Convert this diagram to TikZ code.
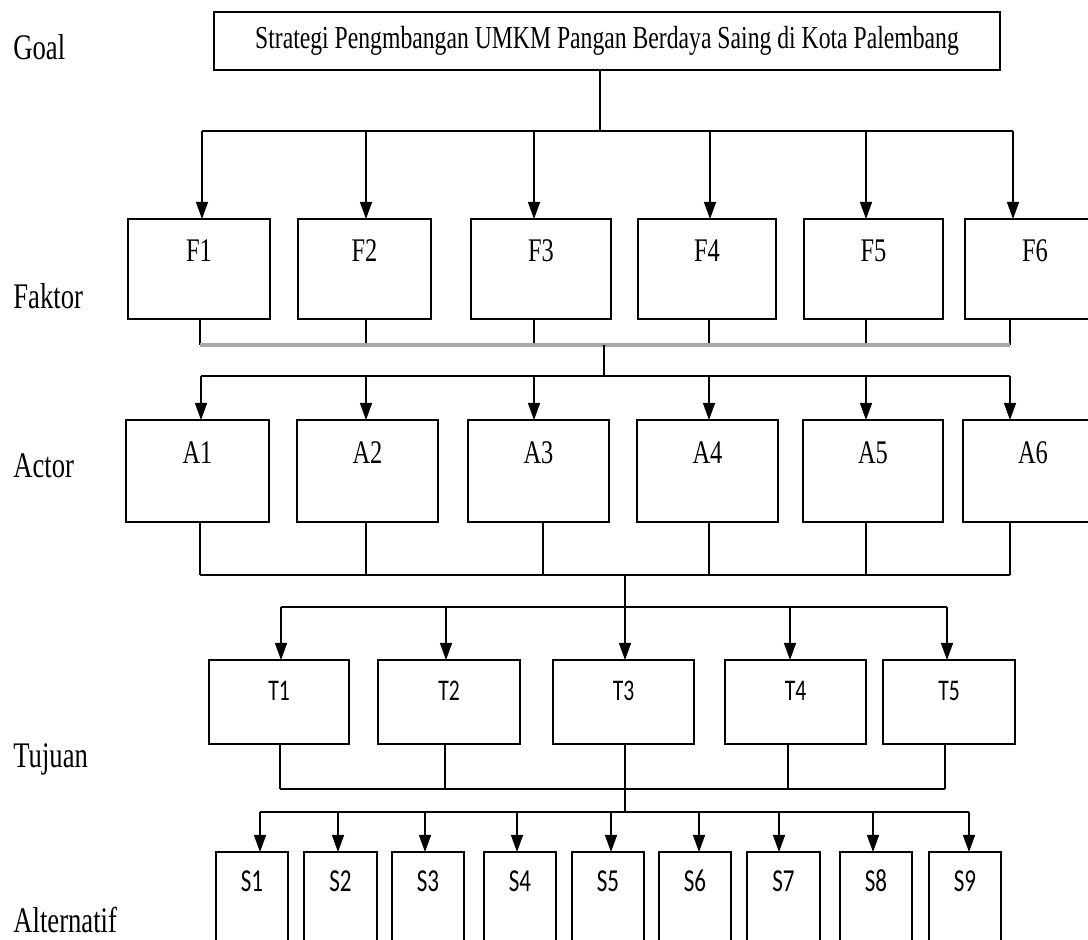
\documentclass[tikz,border=0pt]{standalone}
\usepackage{fontspec}
\setmainfont[FakeStretch=0.74]{Liberation Serif}
\newfontfamily\narrowsans[FakeStretch=0.72]{Carlito}
\usetikzlibrary{positioning}
\usetikzlibrary{arrows.meta}

\begin{document}
\begin{tikzpicture}[x=0.5pt, y=-0.5pt,
    main/.style = {draw, line width=1pt, inner sep=0pt, outer sep=0pt},
    side/.style = {inner sep=0pt, anchor=base west, font=\fontsize{18}{20}\selectfont},
    fbox/.style = {main, minimum height=50pt, label={[anchor=center, yshift=-16pt, font=\fontsize{16.5}{18}\selectfont]north:#1}},
    abox/.style = {main, minimum height=51pt, label={[anchor=center, yshift=-16.5pt, font=\fontsize{16.5}{18}\selectfont]north:#1}},
    tbox/.style = {main, minimum height=42pt, label={[anchor=center, yshift=-15.5pt, font=\narrowsans\fontsize{15}{17}\selectfont]north:#1}},
    sbox/.style = {main, minimum height=54pt, label={[anchor=center, yshift=-14.5pt, font=\narrowsans\fontsize{16}{18}\selectfont]north:#1}},
    link/.style = {line width=0.75pt},
    bar/.style = {line width=1.3pt},
    graybar/.style = {line width=2pt, gray!70},
    arr/.style = {link, -{Triangle[length=8.5pt, width=6pt]}}]
    \useasboundingbox (0,0) rectangle (1088,940);
    \clip (0,0) rectangle (1088,940);

    \node[side] (lgoal) at (13,60) {Goal};
    \node[side] (lfaktor) at (13,309) {Faktor};
    \node[side] (lactor) at (13,478) {Actor};
    \node[side] (ltujuan) at (13,768) {Tujuan};
    \node[side] (lalt) at (13,933) {Alternatif};

    \node[main, minimum width=393pt, minimum height=29pt, font=\fontsize{16}{18}\selectfont] (goal) at (607,41) {Strategi Pengmbangan UMKM Pangan Berdaya Saing di Kota Palembang};

    \node[fbox=F1, minimum width=71pt] (F1) at (199,269) {};
    \node[fbox=F2, minimum width=66.5pt] (F2) [right=14pt of F1] {};
    \node[fbox=F3, minimum width=70pt] (F3) [right=20pt of F2] {};
    \node[fbox=F4, minimum width=69pt] (F4) [right=13.5pt of F3] {};
    \node[fbox=F5, minimum width=69.5pt] (F5) [right=14pt of F4] {};
    \node[fbox=F6, minimum width=70pt] (F6) [right=11pt of F5] {};

    \node[abox=A1, minimum width=71.5pt] (A1) at (197.5,471) {};
    \node[abox=A2, minimum width=70.5pt] (A2) [right=14pt of A1] {};
    \node[abox=A3, minimum width=70.5pt] (A3) [right=15pt of A2] {};
    \node[abox=A4, minimum width=70.5pt] (A4) [right=14pt of A3] {};
    \node[abox=A5, minimum width=70pt] (A5) [right=12.5pt of A4] {};
    \node[abox=A6, minimum width=70pt] (A6) [right=10pt of A5] {};

    \node[tbox=T1, minimum width=70pt] (T1) at (279,702) {};
    \node[tbox=T2, minimum width=71pt] (T2) [right=14.5pt of T1] {};
    \node[tbox=T3, minimum width=70.5pt] (T3) [right=16.5pt of T2] {};
    \node[tbox=T4, minimum width=70.5pt] (T4) [right=15.5pt of T3] {};
    \node[tbox=T5, minimum width=66pt] (T5) [right=8.5pt of T4] {};

    \node[sbox=S1, minimum width=36pt] (S1) at (252,906) {};
    \node[sbox=S2, minimum width=36.5pt] (S2) [right=8pt of S1] {};
    \node[sbox=S3, minimum width=36pt] (S3) [right=7.5pt of S2] {};
    \node[sbox=S4, minimum width=36pt] (S4) [right=10pt of S3] {};
    \node[sbox=S5, minimum width=36pt] (S5) [right=8pt of S4] {};
    \node[sbox=S6, minimum width=36pt] (S6) [right=7.5pt of S5] {};
    \node[sbox=S7, minimum width=36.5pt] (S7) [right=8pt of S6] {};
    \node[sbox=S8, minimum width=36pt] (S8) [right=10pt of S7] {};
    \node[sbox=S9, minimum width=36pt] (S9) [right=8.5pt of S8] {};

    \coordinate (g0) at (600,131);
    \coordinate (f1) at (202,131);
    \coordinate (f2) at (366,131);
    \coordinate (f3) at (534,131);
    \coordinate (f4) at (710,131);
    \coordinate (f5) at (866,131);
    \coordinate (f6) at (1013,131);

    \coordinate (p1) at (200,345);
    \coordinate (p2) at (366,345);
    \coordinate (p3) at (534,345);
    \coordinate (p4) at (709,345);
    \coordinate (p5) at (866,345);
    \coordinate (p6) at (1010,345);
    \coordinate (pm) at (604,345);

    \coordinate (a1) at (201,376);
    \coordinate (a2) at (366,376);
    \coordinate (a3) at (534,376);
    \coordinate (a4) at (709,376);
    \coordinate (a5) at (866,376);
    \coordinate (a6) at (1010,376);
    \coordinate (am) at (604,376);

    \coordinate (q1) at (200,575);
    \coordinate (q2) at (366,575);
    \coordinate (q3) at (543,575);
    \coordinate (q4) at (709,575);
    \coordinate (q5) at (866,575);
    \coordinate (q6) at (1010,575);
    \coordinate (qm) at (625,575);

    \coordinate (t1) at (281,607);
    \coordinate (t2) at (446,607);
    \coordinate (t3) at (625,607);
    \coordinate (t4) at (790,607);
    \coordinate (t5) at (947,607);

    \coordinate (r1) at (280,789);
    \coordinate (r2) at (445,789);
    \coordinate (r3) at (625,789);
    \coordinate (r4) at (788,789);
    \coordinate (r5) at (945,789);

    \coordinate (s1) at (260,812);
    \coordinate (s2) at (338,812);
    \coordinate (s3) at (425,812);
    \coordinate (s4) at (517,812);
    \coordinate (s5) at (611,812);
    \coordinate (s6) at (699,812);
    \coordinate (s7) at (779,812);
    \coordinate (s8) at (873,812);
    \coordinate (s9) at (969,812);
    \coordinate (sm) at (625,812);

    \draw[link] (goal.south -| g0) -- (g0);
    \draw[bar] (f1) -- (f6);
    \draw[arr] (f1) -- (f1 |- F1.north);
    \draw[arr] (f2) -- (f2 |- F2.north);
    \draw[arr] (f3) -- (f3 |- F3.north);
    \draw[arr] (f4) -- (f4 |- F4.north);
    \draw[arr] (f5) -- (f5 |- F5.north);
    \draw[arr] (f6) -- (f6 |- F6.north);

    \draw[link] (F1.south -| p1) -- (p1);
    \draw[link] (F2.south -| p2) -- (p2);
    \draw[link] (F3.south -| p3) -- (p3);
    \draw[link] (F4.south -| p4) -- (p4);
    \draw[link] (F5.south -| p5) -- (p5);
    \draw[link] (F6.south -| p6) -- (p6);
    \draw[graybar] (p1) -- (p6);
    \draw[link] (pm) -- (am);
    \draw[bar] (a1) -- (a6);
    \draw[arr] (a1) -- (a1 |- A1.north);
    \draw[arr] (a2) -- (a2 |- A2.north);
    \draw[arr] (a3) -- (a3 |- A3.north);
    \draw[arr] (a4) -- (a4 |- A4.north);
    \draw[arr] (a5) -- (a5 |- A5.north);
    \draw[arr] (a6) -- (a6 |- A6.north);

    \draw[link] (A1.south -| q1) -- (q1);
    \draw[link] (A2.south -| q2) -- (q2);
    \draw[link] (A3.south -| q3) -- (q3);
    \draw[link] (A4.south -| q4) -- (q4);
    \draw[link] (A5.south -| q5) -- (q5);
    \draw[link] (A6.south -| q6) -- (q6);
    \draw[bar] (q1) -- (q6);
    \draw[link] (qm) -- (t3);
    \draw[bar] (t1) -- (t5);
    \draw[arr] (t1) -- (t1 |- T1.north);
    \draw[arr] (t2) -- (t2 |- T2.north);
    \draw[arr] (t3) -- (t3 |- T3.north);
    \draw[arr] (t4) -- (t4 |- T4.north);
    \draw[arr] (t5) -- (t5 |- T5.north);

    \draw[link] (T1.south -| r1) -- (r1);
    \draw[link] (T2.south -| r2) -- (r2);
    \draw[link] (T3.south -| r3) -- (sm);
    \draw[link] (T4.south -| r4) -- (r4);
    \draw[link] (T5.south -| r5) -- (r5);
    \draw[bar] (r1) -- (r5);
    \draw[bar] (s1) -- (s9);
    \draw[arr] (s1) -- (s1 |- S1.north);
    \draw[arr] (s2) -- (s2 |- S2.north);
    \draw[arr] (s3) -- (s3 |- S3.north);
    \draw[arr] (s4) -- (s4 |- S4.north);
    \draw[arr] (s5) -- (s5 |- S5.north);
    \draw[arr] (s6) -- (s6 |- S6.north);
    \draw[arr] (s7) -- (s7 |- S7.north);
    \draw[arr] (s8) -- (s8 |- S8.north);
    \draw[arr] (s9) -- (s9 |- S9.north);
\end{tikzpicture}
\end{document}
